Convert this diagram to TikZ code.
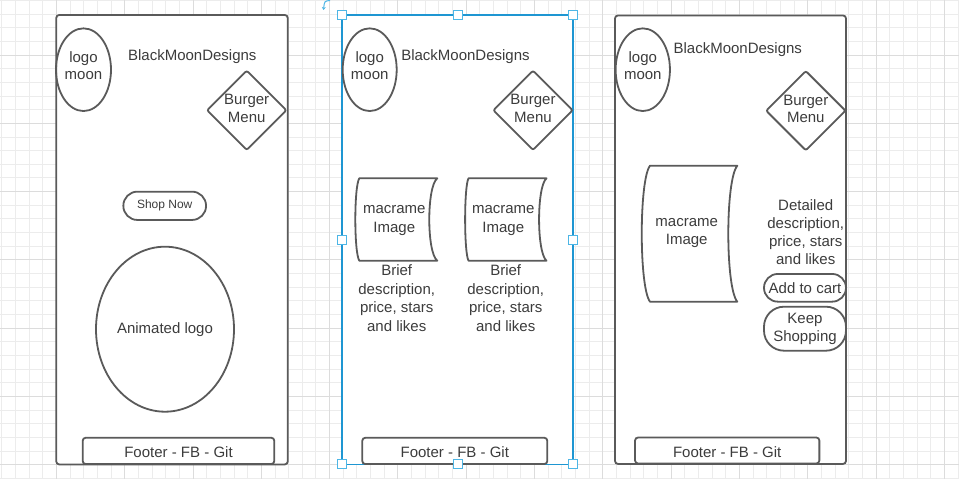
\documentclass[tikz,border=0pt]{standalone}
\usepackage{fontspec}
\setmainfont{Liberation Sans}
\usetikzlibrary{shapes.geometric,arrows.meta}

\definecolor{ink}{HTML}{3C3C3C}
\definecolor{edge}{HTML}{5A5A5A}
\definecolor{selblue}{HTML}{1E96D2}
\definecolor{handleblue}{HTML}{4DB6E6}
\definecolor{gridminor}{HTML}{ECECEC}
\definecolor{gridmajor}{HTML}{DCDCDC}

\begin{document}
\begin{tikzpicture}[x=1pt, y=-1pt,
    panel/.style={draw=edge, fill=white, line width=1.8pt, rounded corners=3pt, inner sep=0pt, outer sep=0pt},
    logo/.style={ellipse, draw=edge, line width=1.8pt, inner sep=0pt, text=ink, align=center, font=\fontsize{15}{17.7}\selectfont},
    burger/.style={diamond, draw=edge, line width=1.8pt, rounded corners=2pt, inner sep=0pt, minimum width=80pt, minimum height=80pt, text depth=4pt, text=ink, align=center, font=\fontsize{15}{17.5}\selectfont},
    pill/.style={rectangle, draw=edge, line width=1.8pt, inner sep=0pt, text=ink, align=center, font=\fontsize{15}{17.6}\selectfont},
    footer/.style={rectangle, draw=edge, line width=1.8pt, rounded corners=3pt, inner sep=0pt, text height=14pt, text depth=0pt, text=ink, font=\fontsize{15}{18}\selectfont},
    sheet/.style={draw=edge, line width=1.8pt, line join=round},
    txt/.style={inner sep=0pt, text=ink, align=center, font=\fontsize{15}{18.5}\selectfont},
    handle/.style={rectangle, draw=handleblue, fill=white, line width=1pt, minimum size=9pt, inner sep=0pt}
]

    % Fix the page size and paint the white background
    \useasboundingbox (0,0) rectangle (959,479);
    \fill[white] (0,0) rectangle (959,479);

    % Draw the background grid (minor lines, then every fifth line darker)
    \foreach \i in {0,...,70}
        \draw[gridminor, line width=0.8pt] ({1.7+13.66*\i},0) -- ({1.7+13.66*\i},479);
    \foreach \j in {0,...,35}
        \draw[gridminor, line width=0.8pt] (0,{0.3+13.66*\j}) -- (959,{0.3+13.66*\j});
    \foreach \i in {4,9,...,69}
        \draw[gridmajor, line width=0.8pt] ({1.7+13.66*\i},0) -- ({1.7+13.66*\i},479);
    \foreach \j in {4,9,...,34}
        \draw[gridmajor, line width=0.8pt] (0,{0.3+13.66*\j}) -- (959,{0.3+13.66*\j});

    % ---------------- Home page ----------------
    % Draw the phone frame
    \node[panel, minimum width=231.5pt, minimum height=449.5pt] (p1) at (172,239.7) {};

    % Logo, brand name and burger menu at the top
    \node[logo, text depth=8pt, minimum width=55pt, minimum height=82.7pt] (logo1) at (83.5,69.7) {logo\\moon};
    \node[txt] (brand1) at (192.3,57) {BlackMoonDesigns};
    \node[burger] (menu1) at (246.7,110.3) {Burger\\Menu};

    % Shop button and the animated logo
    \node[pill, minimum width=82.7pt, minimum height=28.3pt, rounded corners=14pt, font=\fontsize{12}{14}\selectfont] (shop) at (164.7,205.8) {Shop Now};
    \node[logo, minimum width=138pt, minimum height=165pt] (anim) at (165,329.2) {Animated logo};

    % Footer bar
    \node[footer, minimum width=191.6pt, minimum height=26.3pt] (foot1) at (178.5,450.9) {Footer - FB - Git};

    % ---------------- Product list (selected) ----------------
    % Draw the phone frame with the blue selection outline
    \node[panel, draw=selblue, rounded corners=0pt, minimum width=231.6pt, minimum height=449.5pt] (p2) at (457.5,239.7) {};

    % Logo, brand name and burger menu at the top
    \node[logo, text depth=8pt, minimum width=54pt, minimum height=82.7pt] (logo2) at (369.7,69.7) {logo\\moon};
    \node[txt] (brand2) at (465.5,57) {BlackMoonDesigns};
    \node[burger] (menu2) at (533,110.3) {Burger\\Menu};

    % First product image with its short text
    \draw[sheet] (359.3,178.3) -- (437.3,178.3)
        .. controls (426.6,186.5) and (426.6,252.5) .. (437.3,260.7)
        -- (359.3,260.7)
        .. controls (354,252.5) and (354,186.5) .. (359.3,178.3) -- cycle;
    \node[txt] (img1) at (394.3,220.5) {macrame\\Image};
    \node[txt] (brief1) at (396.7,298) {Brief\\description,\\price, stars\\and likes};

    % Second product image with its short text
    \draw[sheet] (468.5,178.3) -- (546.5,178.3)
        .. controls (536.6,186.5) and (536.6,252.5) .. (546.5,260.7)
        -- (468.5,260.7)
        .. controls (464,252.5) and (464,186.5) .. (468.5,178.3) -- cycle;
    \node[txt] (img2) at (503.3,220.5) {macrame\\Image};
    \node[txt] (brief2) at (505.7,298) {Brief\\description,\\price, stars\\and likes};

    % Footer bar
    \node[footer, minimum width=185pt, minimum height=26.3pt] (foot2) at (454.8,450.9) {Footer - FB - Git};

    % Selection handles round the frame and the rotate arrow
    \foreach \a [count=\i] in {north west,north,north east,west,east,south west,south,south east}
        \node[handle] (hnd\i) at (p2.\a) {};
    \coordinate (rotA) at (330,0.5);
    \coordinate (rotB) at (323.5,10);
    \draw[handleblue, line width=1pt, -{Stealth[length=3pt,width=4pt]}] (rotA) .. controls (324.5,1) .. (rotB);

    % ---------------- Product detail ----------------
    % Draw the phone frame
    \node[panel, minimum width=231pt, minimum height=448.5pt] (p3) at (730.5,239.7) {};

    % Logo, brand name and burger menu at the top
    \node[logo, text depth=8pt, minimum width=54.3pt, minimum height=82.7pt] (logo3) at (642.8,69.7) {logo\\moon};
    \node[txt] (brand3) at (737.8,49.7) {BlackMoonDesigns};
    \node[burger] (menu3) at (805.8,110.7) {Burger\\Menu};

    % Large product image
    \draw[sheet] (650,165.7) -- (737.3,165.7)
        .. controls (725.3,180) and (725.3,287.4) .. (737.3,301.7)
        -- (650,301.7)
        .. controls (639,287.4) and (639,180) .. (650,165.7) -- cycle;
    \node[txt] (img3) at (686.7,233) {macrame\\Image};

    % Detailed text and the two buttons
    \node[txt, font=\fontsize{15}{17.9}\selectfont] (detail) at (805.7,232) {Detailed\\description,\\price, stars\\and likes};
    \node[pill, minimum width=82pt, minimum height=27.7pt, rounded corners=13.8pt] (cart) at (805,287.8) {Add to cart};
    \node[pill, minimum width=82pt, minimum height=44pt, rounded corners=20pt] (keep) at (805,328.7) {Keep\\Shopping};

    % Footer bar
    \node[footer, minimum width=184.3pt, minimum height=26pt] (foot3) at (727.2,450.5) {Footer - FB - Git};

\end{tikzpicture}
\end{document}
